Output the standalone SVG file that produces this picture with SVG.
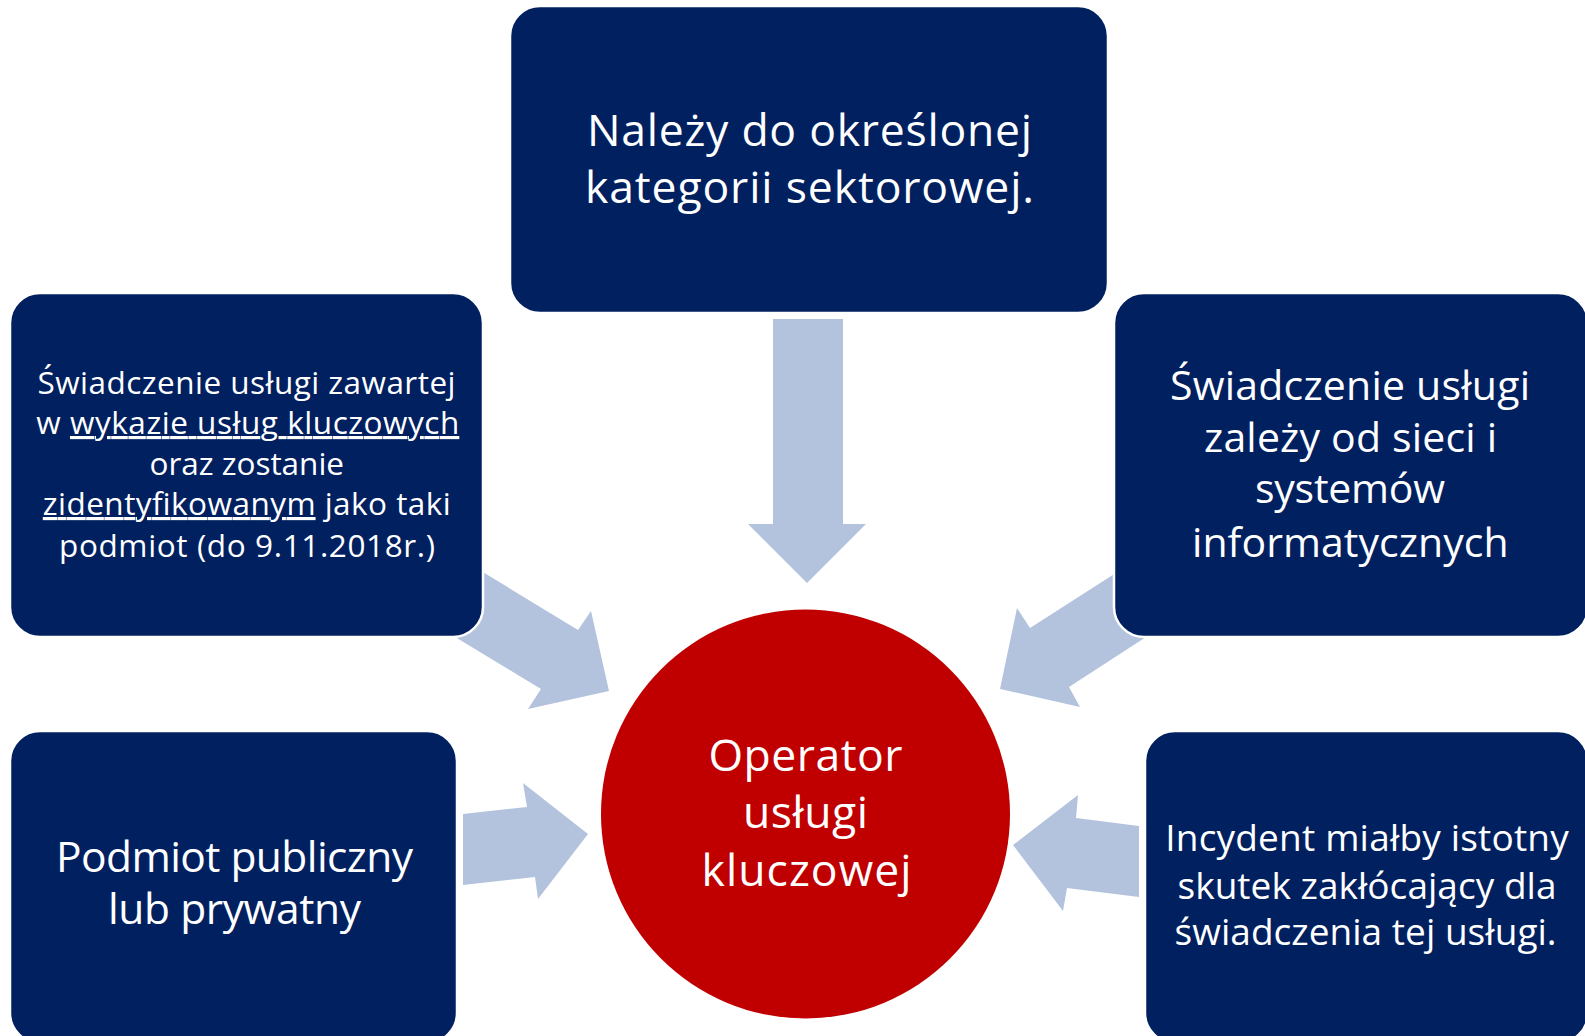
<svg xmlns="http://www.w3.org/2000/svg" width="1585" height="1036" viewBox="0 0 1585 1036">
<style>
.box{fill:#002060;stroke:#ffffff;stroke-width:2.5}
.arrow{fill:#B3C3DE}
.hub{fill:#C00000}
text{font-family:"Open Sans","Liberation Sans",sans-serif;fill:#ffffff;text-anchor:middle}
.t44{font-size:44.5px}
.t42{font-size:42.5px}
.t41{font-size:41px}
.t37{font-size:37px}
.t31{font-size:31.5px}
.u{text-decoration:underline}
</style>
<rect width="1585" height="1036" fill="#ffffff"/>
<g id="connectors">
<polygon class="arrow" points="773,319 843,319 843,524 866,524 807,583 748,524 773,524"/>
<polygon class="arrow" points="463,560 578,630 591,611 609,691 528,709 541,689 437,626"/>
<polygon class="arrow" points="1133,562 1030,628 1017,608 1000,689 1080,707 1069,687 1163,626"/>
<polygon class="arrow" points="463,814 527,807 523,783 588,834 538,899 535,877 463,885"/>
<polygon class="arrow" points="1013,845 1078,795 1076,818 1139,826 1139,897 1067,888 1063,911"/>
</g>
<g id="node-top">
<rect class="box" x="510" y="6" width="598" height="307" rx="30"/>
<text class="t44" x="809.5" y="146" textLength="445" lengthAdjust="spacing">Należy do określonej</text>
<text class="t44" x="809.5" y="203" textLength="449" lengthAdjust="spacing">kategorii sektorowej.</text>
</g>
<g id="node-left-mid">
<rect class="box" x="10" y="293" width="473" height="344" rx="30"/>
<text class="t31" x="246.5" y="394" textLength="418" lengthAdjust="spacing">Świadczenie usługi zawartej</text>
<text class="t31" x="247.8" y="434" textLength="423" lengthAdjust="spacing">w <tspan class="u">wykazie usług kluczowych</tspan></text>
<text class="t31" x="246.8" y="475" textLength="194.5" lengthAdjust="spacing">oraz zostanie</text>
<text class="t31" x="246.8" y="515" textLength="408" lengthAdjust="spacing"><tspan class="u">zidentyfikowanym</tspan> jako taki</text>
<text class="t31" x="247" y="557" textLength="376" lengthAdjust="spacing">podmiot (do 9.11.2018r.)</text>
</g>
<g id="node-right-mid">
<rect class="box" x="1114" y="293" width="474" height="344" rx="30"/>
<text class="t41" x="1350" y="400" textLength="360" lengthAdjust="spacing">Świadczenie usługi</text>
<text class="t41" x="1350.5" y="452" textLength="293" lengthAdjust="spacing">zależy od sieci i</text>
<text class="t41" x="1350" y="503" textLength="190" lengthAdjust="spacing">systemów</text>
<text class="t41" x="1350.3" y="557" textLength="316.6" lengthAdjust="spacing">informatycznych</text>
</g>
<g id="node-bottom-left">
<rect class="box" x="10" y="731" width="447" height="312" rx="30"/>
<text class="t42" x="234.5" y="872" textLength="357" lengthAdjust="spacing">Podmiot publiczny</text>
<text class="t42" x="234.5" y="924" textLength="253" lengthAdjust="spacing">lub prywatny</text>
</g>
<g id="node-bottom-right">
<rect class="box" x="1145" y="731" width="443" height="312" rx="30"/>
<text class="t37" x="1367" y="851" textLength="403.5" lengthAdjust="spacing">Incydent miałby istotny</text>
<text class="t37" x="1367" y="898.5" textLength="379" lengthAdjust="spacing">skutek zakłócający dla</text>
<text class="t37" x="1365.6" y="945" textLength="382" lengthAdjust="spacing">świadczenia tej usługi.</text>
</g>
<g id="node-center">
<circle class="hub" cx="805.5" cy="814" r="204.5"/>
<text class="t44" x="805.5" y="771" textLength="194" lengthAdjust="spacing">Operator</text>
<text class="t44" x="805.5" y="828" textLength="125" lengthAdjust="spacing">usługi</text>
<text class="t44" x="806.5" y="886" textLength="210" lengthAdjust="spacing">kluczowej</text>
</g>
</svg>
